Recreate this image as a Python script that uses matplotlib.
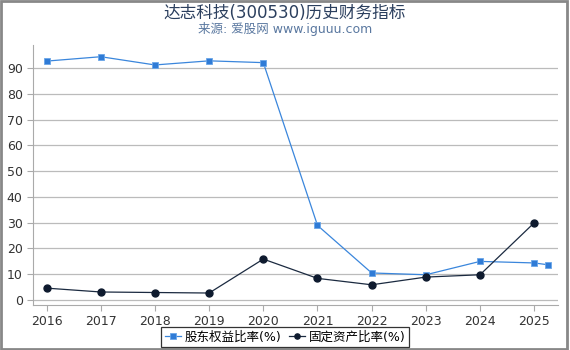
import matplotlib.pyplot as plt
from matplotlib.patches import Rectangle

plt.rcParams['font.family'] = ['DejaVu Sans', 'Noto Sans CJK SC']

# data
years = [2016, 2017, 2018, 2019, 2020, 2021, 2022, 2023, 2024, 2025, 2025.25]
equity_ratio = [92.8, 94.5, 91.3, 92.9, 92.2, 28.9, 10.4, 9.7, 14.9, 14.3, 13.6]
fixed_years = [2016, 2017, 2018, 2019, 2020, 2021, 2022, 2023, 2024, 2025]
fixed_ratio = [4.5, 3.0, 2.8, 2.6, 15.8, 8.3, 5.8, 8.8, 9.7, 29.9]
xticks = [2016, 2017, 2018, 2019, 2020, 2021, 2022, 2023, 2024, 2025]
yticks = [0, 10, 20, 30, 40, 50, 60, 70, 80, 90]

fig = plt.figure(figsize=(5.7, 3.5), dpi=100)
ax = fig.add_axes([0.058, 0.129, 0.921, 0.742])

ax.plot(years, equity_ratio, color='#3a86dc', lw=0.9, marker='s', ms=5,
        mfc='#2f7bd6', mec='#6aa6e8', mew=0.6, label='股东权益比率(%)', zorder=3)
ax.plot(fixed_years, fixed_ratio, color='#1b2a40', lw=0.9, marker='o', ms=5,
        mfc='#0e1a2e', mec='#0e1a2e', label='固定资产比率(%)', zorder=3)

ax.set_xlim(2015.75, 2025.44)
ax.set_ylim(-2, 99)
ax.set_xticks(xticks)
ax.set_yticks(yticks)
ax.grid(axis='y', color='#bbbbbb', lw=0.9)
ax.set_axisbelow(True)
for s in ['top', 'right']:
    ax.spines[s].set_visible(False)
for s in ['left', 'bottom']:
    ax.spines[s].set_color('#aaaaaa')
    ax.spines[s].set_linewidth(0.8)
ax.tick_params(colors='#aaaaaa', labelcolor='#333333', labelsize=9, length=4, width=0.8)

fig.text(0.5, 0.962, '达志科技(300530)历史财务指标', ha='center', va='center',
         fontsize=12, color='#2b3f5e')
fig.text(0.5, 0.916, '来源: 爱股网 www.iguuu.com', ha='center', va='center',
         fontsize=9, color='#5a78a0')

leg = fig.legend(loc='center', bbox_to_anchor=(0.5, 0.037), ncol=2, fontsize=9,
                 frameon=True, fancybox=False, edgecolor='#000000',
                 handlelength=1.3, handletextpad=0.3, columnspacing=0.6,
                 borderpad=0.3, markerscale=0.75)
leg.get_frame().set_linewidth(0.9)

fig.patches.append(Rectangle((0.001, 0.003), 0.993, 0.995, transform=fig.transFigure,
                             fill=False, edgecolor='#888888', lw=2))

fig.savefig('out.png', dpi=100)
